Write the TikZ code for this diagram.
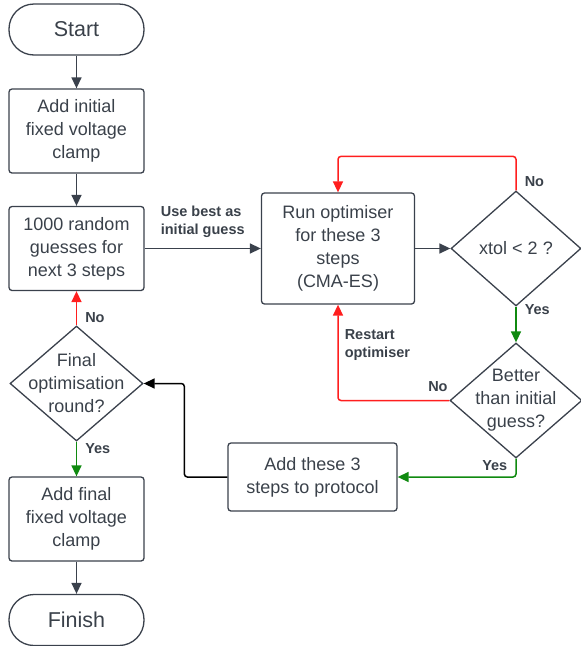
\documentclass[tikz,border=0pt]{standalone}
\usepackage{fontspec}
\setmainfont{Liberation Sans}
\usetikzlibrary{positioning, arrows.meta, shapes.geometric, calc}

\definecolor{lineGray}{RGB}{58,65,76}
\definecolor{textGray}{RGB}{58,65,74}
\definecolor{noRed}{RGB}{255,30,30}
\definecolor{yesGreen}{RGB}{16,138,16}

\begin{document}
\begin{tikzpicture}[
    x=1pt, y=-1pt,
    >={Triangle[length=11pt, width=10pt]},
    on grid,
    every node/.style={text=textGray},
    box/.style={draw=lineGray, line width=1.3pt, rounded corners=3pt, minimum width=135pt, minimum height=84pt, align=center, font=\fontsize{18}{23}\selectfont},
    terminal/.style={box, minimum height=51pt, rounded corners=25pt, font=\fontsize{21.5}{26}\selectfont},
    decision/.style={diamond, draw=lineGray, line width=1.3pt, minimum width=132pt, minimum height=115pt, inner sep=0pt, font=\fontsize{18}{23}\selectfont},
    inside/.style={font=\fontsize{18}{23}\selectfont, align=center},
    flow/.style={->, draw=lineGray, line width=1.5pt, rounded corners=3pt},
    noflow/.style={flow, draw=noRed},
    yesflow/.style={flow, draw=yesGreen},
    backflow/.style={flow, draw=black},
    lbl/.style={font=\bfseries\fontsize{14.5}{18}\selectfont, inner sep=1pt, align=left}
]
\useasboundingbox (0,0) rectangle (581,646);

% 左列节点
\node[terminal] (start) at (76.5,29.5) {Start};
\node[box, below=101.5pt of start] (addinit) {Add initial\\fixed voltage\\clamp};
\node[box, below=117.5pt of addinit] (random) {1000 random\\guesses for\\next 3 steps};
\node[decision, below=135pt of random, minimum width=133pt,
      label={[inside]center:Final\\optimisation\\round?}] (final) {};
\node[box, below=135.5pt of final] (addfinal) {Add final\\fixed voltage\\clamp};
\node[terminal, below=101pt of addfinal] (finish) {Finish};

% 右侧节点
\node[box, right=261.5pt of random, minimum width=153pt, minimum height=111pt] (run) {Run optimiser\\for these 3\\steps\\(CMA-ES)};
\node[decision, right=178pt of run, minimum width=130pt] (xtol) {xtol < 2 ?};
\node[decision, below=152pt of xtol,
      label={[inside]center:Better\\than initial\\guess?}] (better) {};
\node[box, minimum width=169pt, minimum height=68pt] (addsteps) at (312.5,477) {Add these 3\\steps to protocol};

% 主流程
\draw[flow] (start) -- (addinit);
\draw[flow] (addinit) -- (random);
\draw[flow] (random) -- node[lbl, above=9pt] {Use best as\\initial guess} (run);
\draw[flow] (run) -- (xtol);
\draw[flow] (addfinal) -- (finish);

% 判断分支
\draw[noflow] (xtol.north) -- node[lbl, pos=0.25, right=7pt] {No} ++(0,-34) -| (run.north);
\draw[yesflow] (xtol.south) -- node[lbl, pos=0.08, right=7pt] {Yes} (better.north);
\draw[noflow] (better.west) -| node[lbl, pos=0, anchor=south east, yshift=7pt] {No}
    node[lbl, pos=0.88, anchor=north west, xshift=5pt] {Restart\\optimiser} (run.south);
\draw[yesflow] (better.south) |- node[lbl, pos=0, anchor=north east, xshift=-7pt] {Yes} (addsteps.east);
\draw[backflow] (addsteps.west) -- ++(-43,0) |- (final.east);
\draw[noflow] (final.north) -- node[lbl, pos=0.22, right=7pt] {No} (random.south);
\draw[yesflow] (final.south) -- node[lbl, pos=0.2, right=7pt] {Yes} (addfinal.north);

\end{tikzpicture}
\end{document}
